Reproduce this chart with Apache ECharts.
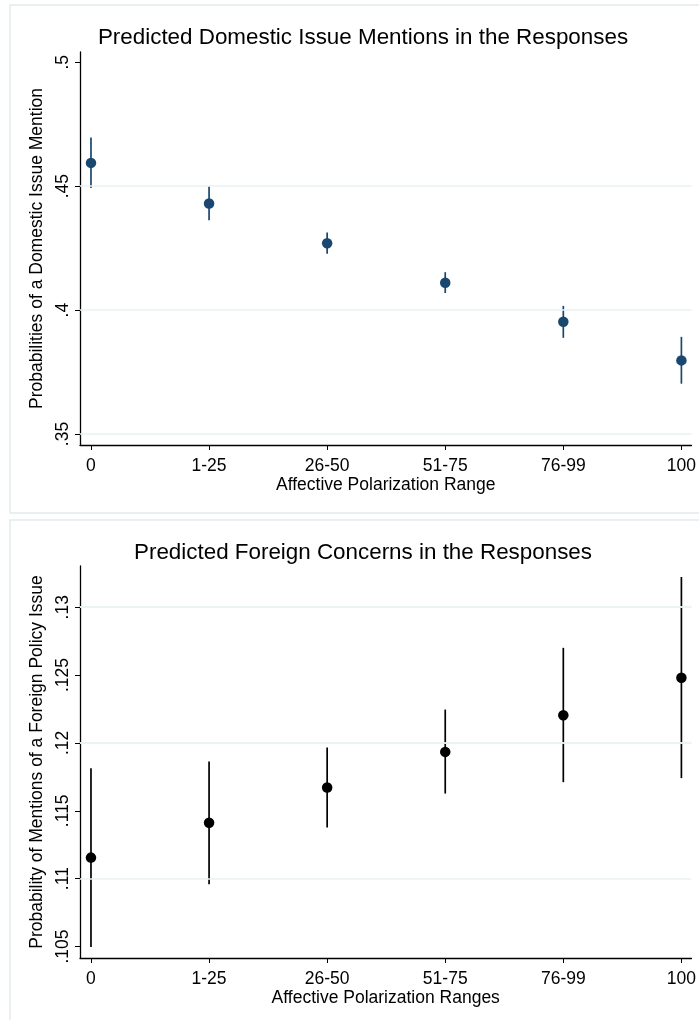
<!DOCTYPE html>
<html><head><meta charset="utf-8">
<script src="https://cdn.jsdelivr.net/npm/echarts@6/dist/echarts.min.js"></script>
<style>html,body{margin:0;padding:0;background:#fff}#c{width:699px;height:1020px}</style>
</head><body><div id="c"></div>
<script>
const categories = ['0','1-25','26-50','51-75','76-99','100'];
// Top: domestic issue mentions
const domPoint = [0.4594, 0.4430, 0.4270, 0.4110, 0.3953, 0.3797];
const domLow   = [0.4493, 0.4363, 0.4227, 0.4069, 0.3888, 0.3703];
const domHigh  = [0.4696, 0.4500, 0.4313, 0.4153, 0.4017, 0.3892];
const domTicks = [0.35, 0.4, 0.45, 0.5];
const domTickLabels = ['.35', '.4', '.45', '.5'];
const domGrid = [0.35, 0.4, 0.45];
// Bottom: foreign policy concerns
const forPoint = [0.11155, 0.11412, 0.11672, 0.11934, 0.12204, 0.1248];
const forLow   = [0.10496, 0.10959, 0.11377, 0.11627, 0.11711, 0.11741];
const forHigh  = [0.11814, 0.11863, 0.11966, 0.12246, 0.12701, 0.13223];
const forTicks = [0.105, 0.11, 0.115, 0.12, 0.125, 0.13];
const forTickLabels = ['.105', '.11', '.115', '.12', '.125', '.13'];
const forGrid = [0.105, 0.11, 0.115, 0.12, 0.125, 0.13];

const FONT = '"Liberation Sans", Arial, sans-serif';
const FS = 17.5;
const xIdx = categories.map((_, i) => i);

function xAxis(gi, name) {
  return {
    type: 'value', gridIndex: gi, min: -0.093, max: 5.085,
    name: name, nameLocation: 'middle', nameGap: 31,
    nameTextStyle: { fontFamily: FONT, fontSize: FS, color: '#000' },
    axisLine: { show: true, onZero: false, lineStyle: { color: '#000', width: 1.3 } },
    axisTick: { show: true, length: 5, lineStyle: { color: '#000', width: 1 }, customValues: xIdx },
    axisLabel: { fontFamily: FONT, fontSize: FS, color: '#000', margin: 12,
      customValues: xIdx, formatter: v => categories[Math.round(v)] },
    splitLine: { show: false }
  };
}
function yAxis(gi, min, max, ticks, labels, name) {
  return {
    type: 'value', gridIndex: gi, min: min, max: max,
    name: name, nameLocation: 'middle', nameGap: 29, nameRotate: 90,
    nameTextStyle: { fontFamily: FONT, fontSize: FS, color: '#000' },
    axisLine: { show: true, onZero: false, lineStyle: { color: '#000', width: 1.3 } },
    axisTick: { show: true, length: 5, lineStyle: { color: '#000', width: 1 }, customValues: ticks },
    axisLabel: { fontFamily: FONT, fontSize: FS, color: '#000', rotate: 90, margin: 8,
      customValues: ticks, formatter: v => { const i = ticks.findIndex(t => Math.abs(t - v) < 1e-9); return i >= 0 ? labels[i] : ''; } },
    splitLine: { show: false }
  };
}
function errSeries(gi, lo, hi, color) {
  return {
    type: 'custom', xAxisIndex: gi, yAxisIndex: gi, silent: true,
    data: xIdx.map(i => [i, lo[i], hi[i]]),
    renderItem: (params, api) => {
      const a = api.coord([api.value(0), api.value(1)]);
      const b = api.coord([api.value(0), api.value(2)]);
      return { type: 'line', shape: { x1: a[0], y1: a[1], x2: b[0], y2: b[1] },
        style: { stroke: color, lineWidth: 1.7 } };
    },
    z: 3
  };
}
function gridLines(gi, vals) {
  return {
    type: 'line', xAxisIndex: gi, yAxisIndex: gi, data: [], silent: true,
    markLine: { silent: true, symbol: 'none', label: { show: false },
      lineStyle: { color: '#eaf2f3', width: 1.6, type: 'solid' },
      data: vals.map(v => ({ yAxis: v })) },
    z: 1
  };
}
function pts(gi, vals, color) {
  return {
    type: 'scatter', xAxisIndex: gi, yAxisIndex: gi, symbol: 'circle', symbolSize: 10.5,
    itemStyle: { color: color, opacity: 1 }, data: xIdx.map(i => [i, vals[i]]), z: 4
  };
}

const chart = echarts.init(document.getElementById('c'), null, { renderer: 'canvas' });
chart.setOption({
  animation: false,
  backgroundColor: '#fff',
  graphic: [
    { type: 'rect', shape: { x: 10, y: 5, width: 720, height: 508 }, style: { fill: '#fff', stroke: '#e3ebed', lineWidth: 1.5 }, z: -10 },
    { type: 'rect', shape: { x: 10, y: 520, width: 720, height: 520 }, style: { fill: '#fff', stroke: '#e3ebed', lineWidth: 1.5 }, z: -10 }
  ],
  title: [
    { text: 'Predicted Domestic Issue Mentions in the Responses', left: 358, top: 22, textAlign: 'center',
      textStyle: { fontFamily: FONT, fontSize: 22.4, fontWeight: 'normal', color: '#000' } },
    { text: 'Predicted Foreign Concerns in the Responses', left: 358, top: 537, textAlign: 'center',
      textStyle: { fontFamily: FONT, fontSize: 22.4, fontWeight: 'normal', color: '#000' } }
  ],
  grid: [
    { left: 80, right: 6, top: 52, height: 393 },
    { left: 80, right: 6, top: 566, height: 392 }
  ],
  xAxis: [xAxis(0, 'Affective Polarization Range'), xAxis(1, 'Affective Polarization Ranges')],
  yAxis: [
    yAxis(0, 0.34556, 0.50415, domTicks, domTickLabels, 'Probabilities of a Domestic Issue Mention'),
    yAxis(1, 0.10415, 0.13304, forTicks, forTickLabels, 'Probability of Mentions of a Foreign Policy Issue')
  ],
  series: [
    gridLines(0, domGrid), errSeries(0, domLow, domHigh, '#1a476f'), pts(0, domPoint, '#1a476f'),
    gridLines(1, forGrid), errSeries(1, forLow, forHigh, '#000'), pts(1, forPoint, '#000')
  ]
});
</script></body></html>
